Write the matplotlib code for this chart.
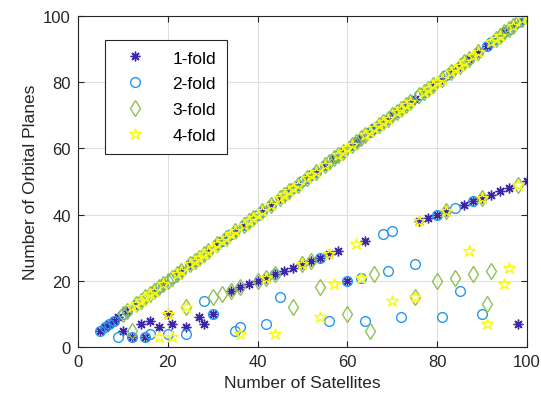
import matplotlib
matplotlib.use('Agg')
import matplotlib.pyplot as plt

plt.rcParams['font.family'] = ['Liberation Sans', 'DejaVu Sans']

# satellites counts where the number of planes equals the number of satellites
one_fold_diag = [5, 6, 7, 8, 9, 11, 13, 17, 19, 22, 23, 25, 26, 29, 31, 32, 33, 35, 37, 39,
                 41, 43, 45, 47, 49, 51, 53, 55, 57, 59, 61, 62, 63, 65, 66, 67, 68, 69, 70,
                 71, 72, 73, 74, 75, 77, 79, 81, 83, 84, 85, 87, 89, 91, 93, 95, 97, 99]
two_fold_diag = [5, 6, 7, 8, 10, 11, 13, 14, 17, 18, 19, 21, 22, 23, 25, 26, 27, 29, 31, 32,
                 33, 34, 37, 38, 39, 40, 41, 43, 46, 47, 48, 49, 50, 51, 52, 53, 55, 57, 58,
                 59, 61, 62, 65, 66, 67, 71, 73, 74, 76, 77, 78, 79, 82, 83, 86, 87, 89, 91,
                 92, 93, 94, 95, 96, 97, 98, 99, 100]
three_fold_diag = [10, 11, 13, 14, 15, 16, 17, 18, 19, 20, 21, 22, 23, 25, 26, 27, 28, 29, 31,
                   33, 35, 37, 38, 39, 41, 43, 45, 46, 47, 49, 51, 53, 55, 56, 57, 58, 59, 61,
                   62, 63, 64, 67, 68, 69, 70, 71, 72, 73, 74, 76, 77, 78, 79, 81, 83, 85, 86,
                   87, 89, 93, 94, 95, 96, 97, 99, 100]
four_fold_diag = [12, 13, 14, 15, 16, 17, 19, 22, 23, 25, 26, 27, 28, 29, 30, 31, 32, 33, 34,
                  35, 37, 38, 39, 40, 41, 43, 45, 46, 47, 48, 49, 51, 52, 53, 55, 58, 59, 60,
                  61, 64, 65, 66, 67, 68, 69, 71, 72, 73, 74, 77, 78, 79, 80, 81, 83, 84, 85,
                  86, 88, 89, 92, 93, 94, 97, 99, 100]

# the rest of the points
one_fold_sats = [10, 12, 14, 15, 16, 18, 20, 21, 24, 27, 28, 30, 34, 36, 38, 40, 42, 44, 46,
                 48, 50, 52, 54, 56, 58, 60, 64, 76, 78, 80, 82, 86, 88, 90, 92, 94, 96, 98, 100]
one_fold_planes = [5, 3, 7, 3, 8, 6, 10, 7, 6, 9, 7, 10, 17, 18, 19, 20, 21, 22, 23,
                   24, 25, 26, 27, 28, 29, 20, 32, 38, 39, 40, 41, 43, 44, 45, 46, 47, 48, 7, 50]
two_fold_sats = [9, 12, 15, 16, 20, 24, 28, 30, 35, 36, 42, 44, 45, 54, 56, 60, 63, 64, 68,
                 69, 70, 72, 75, 80, 81, 84, 85, 88, 90]
two_fold_planes = [3, 3, 3, 4, 4, 4, 14, 10, 5, 6, 7, 22, 15, 27, 8, 20, 21, 8, 34,
                   23, 35, 9, 25, 40, 9, 42, 17, 44, 10]
three_fold_sats = [12, 24, 30, 32, 34, 36, 40, 42, 44, 48, 50, 52, 54, 60, 65, 66, 75, 80,
                   82, 84, 88, 90, 91, 92, 98]
three_fold_planes = [5, 12, 15, 16, 17, 18, 20, 21, 22, 12, 25, 26, 18, 10, 5, 22, 15, 20,
                     41, 21, 22, 45, 13, 23, 49]
four_fold_sats = [18, 20, 21, 24, 36, 42, 44, 50, 54, 56, 57, 62, 63, 70, 75, 76, 82, 87,
                  90, 91, 95, 96, 98]
four_fold_planes = [3, 10, 3, 12, 4, 21, 4, 25, 9, 28, 19, 31, 21, 14, 15, 38, 41, 29,
                    45, 7, 19, 24, 49]

colours = [(0.2422, 0.1504, 0.6603), (0.1540, 0.5902, 0.9218),
           (0.5600, 0.7600, 0.3300), (0.9763, 0.9831, 0.0538)]

series = [('1-fold', one_fold_diag, one_fold_sats, one_fold_planes, (8, 2, 0), 7),
          ('2-fold', two_fold_diag, two_fold_sats, two_fold_planes, 'o', 7),
          ('3-fold', three_fold_diag, three_fold_sats, three_fold_planes, 'd', 8),
          ('4-fold', four_fold_diag, four_fold_sats, four_fold_planes, '*', 9)]

fig = plt.figure(figsize=(5.41, 4.10), dpi=100)
ax = fig.add_axes([0.144, 0.151, 0.830, 0.808])

for (label, diag, sats, planes, marker, size), colour in zip(series, colours):
    ax.plot(diag + sats, diag + planes, linestyle='none', marker=marker,
            markersize=size, markerfacecolor='none', markeredgecolor=colour,
            markeredgewidth=1.0, label=label)

ax.set_xlim(0, 100)
ax.set_ylim(0, 100)
ax.set_xticks([0, 20, 40, 60, 80, 100])
ax.set_yticks([0, 20, 40, 60, 80, 100])
ax.grid(True, color='#dfdfdf', linewidth=0.8)
ax.set_axisbelow(True)
ax.tick_params(direction='in', top=True, right=True, length=4, labelsize=12,
               colors='#262626', pad=5)
for spine in ax.spines.values():
    spine.set_color('#262626')
    spine.set_linewidth(0.8)
ax.set_xlabel('Number of Satellites', fontsize=12.5, color='#262626')
ax.set_ylabel('Number of Orbital Planes', fontsize=12.5, color='#262626')

leg = ax.legend(loc='upper left', bbox_to_anchor=(0.06, 0.927), borderaxespad=0,
                fancybox=False, framealpha=1, edgecolor='#262626', fontsize=12.5,
                handlelength=2.3, handletextpad=1.0, labelspacing=0.62, borderpad=0.6)
leg.get_frame().set_linewidth(0.8)

fig.savefig('out.png', dpi=100)
